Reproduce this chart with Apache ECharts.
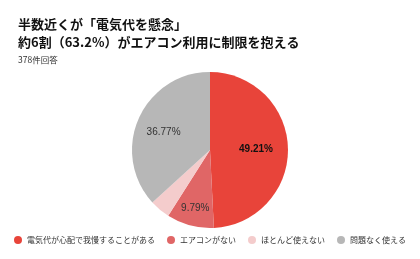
<!DOCTYPE html>
<html>
<head>
<meta charset="utf-8">
<script src="https://cdn.jsdelivr.net/npm/echarts@6/dist/echarts.min.js"></script>
<style>
html,body{margin:0;padding:0;background:#fff;}
#main{width:420px;height:259px;}
</style>
</head>
<body>
<div id="main"></div>
<script>
var categories = ['電気代が心配で我慢することがある', 'エアコンがない', 'ほとんど使えない', '問題なく使える'];
var counts = [186, 37, 16, 139];
var colors = ['#E8443A', '#E06666', '#F4CCCC', '#B7B7B7'];
var labelShown = [true, true, false, true];
var labelNudge = [[4, 0], [-4, 18], [0, 0], [-8, -1]];

var myChart = echarts.init(document.getElementById('main'));
var total = counts.reduce(function (a, b) { return a + b; }, 0);

var data = categories.map(function (name, i) {
    return {
        value: counts[i],
        name: name,
        itemStyle: { color: colors[i] },
        label: {
            show: labelShown[i],
            offset: labelNudge[i],
            fontWeight: i === 0 ? 'bold' : 'normal',
            color: i === 0 ? '#111' : '#333'
        }
    };
});

var option = {
    animation: false,
    title: [
        {
            text: '半数近くが「電気代を懸念」\n約6割（63.2%）がエアコン利用に制限を抱える',
            left: 13,
            top: 10,
            textStyle: {
                fontFamily: 'Noto Sans CJK JP',
                fontSize: 13,
                fontWeight: 'bold',
                color: '#111',
                lineHeight: 18
            }
        },
        {
            text: '378件回答',
            left: 13,
            top: 51,
            textStyle: {
                fontFamily: 'Noto Sans CJK JP',
                fontSize: 8.5,
                fontWeight: 'normal',
                color: '#333'
            }
        }
    ],
    legend: {
        bottom: 10,
        left: 'center',
        width: 410,
        icon: 'circle',
        itemWidth: 8,
        itemHeight: 8,
        itemGap: 12,
        textStyle: { fontFamily: 'Noto Sans CJK JP', fontSize: 8, color: '#333' },
        data: categories
    },
    series: [
        {
            type: 'pie',
            radius: 78,
            center: [210, 150],
            startAngle: 90,
            clockwise: true,
            label: {
                position: 'inside',
                fontFamily: 'Arial',
                fontSize: 10,
                formatter: function (p) {
                    return (p.value / total * 100).toFixed(2) + '%';
                }
            },
            labelLine: { show: false },
            emphasis: { disabled: true },
            data: data
        }
    ]
};
myChart.setOption(option);
</script>
</body>
</html>
